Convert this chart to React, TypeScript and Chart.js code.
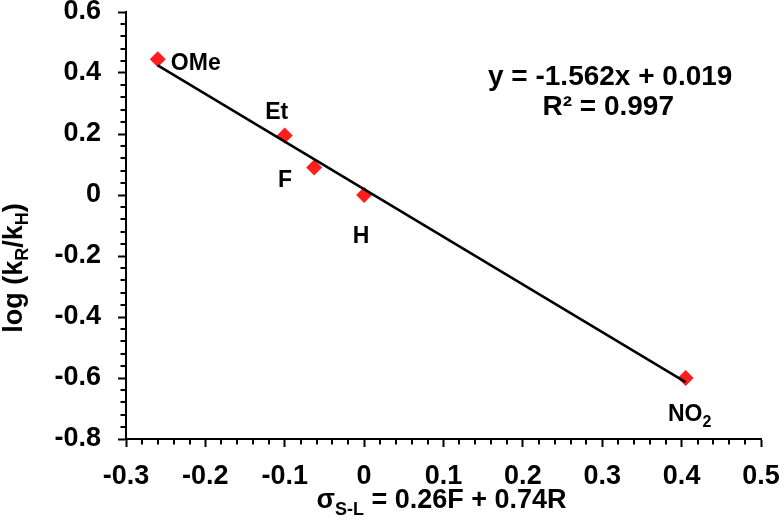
import React, { useEffect, useRef } from 'react';
import { Chart, registerables } from 'chart.js';

Chart.register(...registerables);

// ---- data ----
const labelMain = ['OMe', 'Et', 'F', 'H', 'NO'];
const labelSub = ['', '', '', '', '2'];
const sigmaValues = [-0.26, -0.1, -0.063, 0, 0.405];
const logRatioValues = [0.445, 0.195, 0.09, 0, -0.6];
const trendSlope = -1.562;
const trendIntercept = 0.019;
const rSquared = 0.997;
const xTickMin = -0.3;
const xTickMax = 0.5;
const yTickMin = -0.8;
const yTickMax = 0.6;

// ---- styling / placement (not data) ----
const FONT = '"Liberation Sans", Arial, Helvetica, sans-serif';
const labelOffsets: [number, number][] = [
  [38, 2],
  [-8, -25],
  [-29, 11],
  [-3, 40],
  [4, 35],
];
const LABEL_SIZE = 23;

type Part = { t: string; sub?: boolean };

function drawRich(
  ctx: CanvasRenderingContext2D,
  parts: Part[],
  cx: number,
  baseline: number,
  size: number,
  subSize: number,
  subShift: number
) {
  const widths = parts.map((p) => {
    ctx.font = `bold ${p.sub ? subSize : size}px ${FONT}`;
    return ctx.measureText(p.t).width;
  });
  const total = widths.reduce((a, b) => a + b, 0);
  let xp = cx - total / 2;
  ctx.textAlign = 'left';
  ctx.textBaseline = 'alphabetic';
  parts.forEach((p, i) => {
    ctx.font = `bold ${p.sub ? subSize : size}px ${FONT}`;
    ctx.fillText(p.t, xp, baseline + (p.sub ? subShift : 0));
    xp += widths[i];
  });
}

const fmt = (v: number) => Number(v.toFixed(3)).toString();

const customPlugin = {
  id: 'customDecor',
  afterDraw(chart: any) {
    const { ctx, chartArea } = chart;
    const xs = chart.scales.x;
    const ys = chart.scales.y;
    ctx.save();
    // minor ticks
    ctx.strokeStyle = '#000';
    ctx.lineWidth = 2;
    ctx.beginPath();
    const xMinorStep = 0.02;
    const nx = Math.round((xTickMax - xTickMin) / xMinorStep);
    for (let i = 0; i <= nx; i++) {
      if (i % 5 === 0) continue;
      const px = Math.round(xs.getPixelForValue(xTickMin + i * xMinorStep));
      ctx.moveTo(px, chartArea.bottom);
      ctx.lineTo(px, chartArea.bottom + 5.5);
    }
    const yMinorStep = 0.04;
    const ny = Math.round((yTickMax - yTickMin) / yMinorStep);
    for (let i = 0; i <= ny; i++) {
      if (i % 5 === 0) continue;
      const py = Math.round(ys.getPixelForValue(yTickMin + i * yMinorStep));
      ctx.moveTo(chartArea.left, py);
      ctx.lineTo(chartArea.left - 5.5, py);
    }
    ctx.stroke();

    ctx.fillStyle = '#000';
    // point labels
    for (let i = 0; i < labelMain.length; i++) {
      const px = xs.getPixelForValue(sigmaValues[i]);
      const py = ys.getPixelForValue(logRatioValues[i]);
      const [dx, dy] = labelOffsets[i];
      const parts: Part[] = [{ t: labelMain[i] }];
      if (labelSub[i]) parts.push({ t: labelSub[i], sub: true });
      drawRich(ctx, parts, px + dx, py + dy + 0.358 * LABEL_SIZE, LABEL_SIZE, 16, 5.5);
    }

    // equation
    const eqX = xs.getPixelForValue(0.31);
    const eqY = ys.getPixelForValue(0.393);
    const sign = trendIntercept >= 0 ? '+' : '-';
    drawRich(
      ctx,
      [{ t: `y = ${fmt(trendSlope)}x ${sign} ${fmt(Math.abs(trendIntercept))}` }],
      eqX,
      eqY + 10,
      28,
      18,
      0
    );
    drawRich(ctx, [{ t: `R\u00B2 = ${fmt(rSquared)}` }], eqX - 2, eqY + 40, 28, 18, 0);

    // x axis title
    const xc = (chartArea.left + chartArea.right) / 2 - 2;
    drawRich(
      ctx,
      [{ t: '\u03C3' }, { t: 'S-L', sub: true }, { t: ' = 0.26F + 0.74R' }],
      xc,
      508,
      27,
      18,
      7
    );

    // y axis title
    ctx.translate(22, 268);
    ctx.rotate(-Math.PI / 2);
    drawRich(
      ctx,
      [{ t: 'log (k' }, { t: 'R', sub: true }, { t: '/k' }, { t: 'H', sub: true }, { t: ')' }],
      0,
      0,
      27,
      18,
      6
    );
    ctx.restore();
  },
};

export default function App() {
  const canvasRef = useRef<HTMLCanvasElement | null>(null);

  useEffect(() => {
    const canvas = canvasRef.current;
    if (!canvas) return;
    const points = sigmaValues.map((x, i) => ({ x, y: logRatioValues[i] }));
    const xFirst = Math.min(...sigmaValues);
    const xLast = Math.max(...sigmaValues);
    const trend = [
      { x: xFirst, y: trendSlope * xFirst + trendIntercept },
      { x: xLast, y: trendSlope * xLast + trendIntercept },
    ];
    const tickFont = { family: FONT, size: 27, weight: 'bold' as const };
    const chart = new Chart(canvas, {
      type: 'scatter',
      data: {
        datasets: [
          {
            type: 'scatter',
            data: points,
            pointStyle: 'rectRot',
            pointRadius: 8,
            pointHoverRadius: 8,
            backgroundColor: '#ff1e1e',
            borderWidth: 0,
            order: 1,
          } as any,
          {
            type: 'line',
            data: trend,
            borderColor: '#000',
            borderWidth: 2.5,
            pointRadius: 0,
            fill: false,
            order: 0,
          } as any,
        ],
      },
      options: {
        animation: false,
        responsive: false,
        layout: { padding: { left: 0, right: 23, top: 12, bottom: 0 } },
        plugins: {
          legend: { display: false },
          tooltip: { enabled: false },
          title: { display: false },
        },
        scales: {
          x: {
            type: 'linear',
            min: xTickMin,
            max: xTickMax,
            ticks: {
              stepSize: 0.1,
              font: tickFont,
              color: '#000',
              padding: 13,
              callback: (v: any) => fmt(Number(v)),
            },
            grid: {
              display: true,
              drawOnChartArea: false,
              drawTicks: true,
              tickLength: 8,
              tickWidth: 2,
              tickColor: '#000',
            },
            border: { display: true, color: '#000', width: 2 },
            afterFit: (s: any) => {
              s.height = 89;
              s.paddingLeft = 0;
              s.paddingRight = 0;
            },
          },
          y: {
            type: 'linear',
            min: yTickMin,
            max: yTickMax,
            ticks: {
              stepSize: 0.2,
              font: tickFont,
              color: '#000',
              padding: 17,
              callback: (v: any) => fmt(Number(v)),
            },
            grid: {
              display: true,
              drawOnChartArea: false,
              drawTicks: true,
              tickLength: 8,
              tickWidth: 2,
              tickColor: '#000',
            },
            border: { display: true, color: '#000', width: 2 },
            afterFit: (s: any) => {
              s.width = 126;
              s.paddingTop = 0;
              s.paddingBottom = 0;
            },
          },
        },
      } as any,
      plugins: [customPlugin],
    });
    return () => chart.destroy();
  }, []);

  return (
    <div style={{ position: 'fixed', left: 0, top: 0, width: 784, height: 528, background: '#fff' }}>
      <canvas ref={canvasRef} width={784} height={528} style={{ display: 'block' }} />
    </div>
  );
}
